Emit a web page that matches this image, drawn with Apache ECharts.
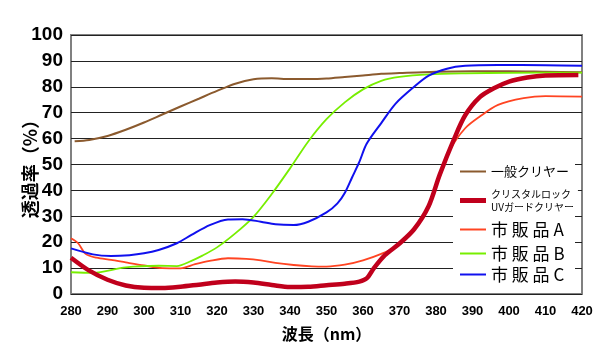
<!DOCTYPE html>
<html><head><meta charset="utf-8">
<script src="https://cdn.jsdelivr.net/npm/echarts@6/dist/echarts.min.js"></script>
<style>html,body{margin:0;padding:0;background:#fff}#c{width:600px;height:354px}</style>
</head><body><div id="c"></div>
<script>
const xTicks = [280,290,300,310,320,330,340,350,360,370,380,390,400,410,420];
const yTicks = [0,10,20,30,40,50,60,70,80,90,100];
const seriesNames = ['一般クリヤー','クリスタルロック UVガードクリヤー','市 販 品 A','市 販 品 B','市 販 品 C'];

const brownX = [281,285,290,295,300,305,310,315,320,325,330,335,340,345,350,355,360,365,370,380,390,400,410,420];
const brownY = [59,59.5,61,63.4,66.2,69.3,72.4,75.4,78.4,81.2,82.9,83.3,83,83,83.2,83.8,84.4,85,85.3,85.8,86,86,85.8,85.6];

const redX = [280,285,290,295,300,305,310,315,320,325,330,335,340,345,350,355,359,361,363,366,370,374,378,381,385,388,392,396,400,405,410,419];
const redY = [14,9,5.5,3.3,2.4,2.3,2.8,3.6,4.4,4.8,4.4,3.5,2.7,2.8,3.4,4,4.8,6,10,15,19.5,25,34,46,60,69,76,79.5,82,83.6,84.4,84.6];

const aX = [280,282,284,287,291,295,300,305,310,314,318,323,328,332,336,341,346,350,355,360,365,369,374,378,381,384,388,392,397,404,410,420];
const aY = [21.5,19.5,15.5,14,13.2,12.2,11,10,9.9,11.5,12.8,13.8,13.6,13,12,11.2,10.7,10.6,11.3,13,15.5,18.3,25,34,45,56,64,68.5,73,75.6,76.4,76.2];

const bX = [280,286,295,304,309,313,316,320,325,330,335,340,345,350,355,360,365,370,378,388,400,420];
const bY = [8.4,8.2,10.3,10.9,10.8,12.8,14.8,18,23.4,29.8,38.6,48.5,58.9,67.5,74,79,82.3,83.8,84.8,85.2,85.4,85.5];

const cX = [280,286,291,296,300,304,309,313,318,323,327,332,336,341,345,350,353,355,357,359,361,365,369,374,378,383,388,397,410,420];
const cY = [17.6,15.3,14.7,15,15.7,17,19.6,22.8,26.6,28.8,28.9,27.9,26.9,26.6,27.9,31.5,35,39,45,51,58,66,73.6,80,84.3,87,88.1,88.4,88.3,88.1];

const zip = (xs, ys) => xs.map((x, i) => [x, ys[i]]);

const chart = echarts.init(document.getElementById('c'), null, {renderer: 'canvas'});
const mk = (name, xs, ys, color, width, z) => ({
  name, type: 'line', data: zip(xs, ys), showSymbol: false, symbol: 'none',
  smooth: 0.3, z,
  lineStyle: {color, width}, itemStyle: {color}
});
const thinIcon = 'path://M0,0H26V2H0Z';
const thickIcon = 'path://M0,0H26V5H0Z';
const richStyles = {
  s: {fontFamily: 'Noto Sans CJK JP', fontSize: 10, lineHeight: 13, width: 80, color: '#000'},
  m: {fontFamily: 'Noto Sans CJK JP', fontSize: 13, lineHeight: 18, width: 80, color: '#000'},
  b: {fontFamily: 'Noto Sans CJK JP', fontSize: 17, lineHeight: 16, width: 80, color: '#000'}
};
const fmt = name => {
  if (name === seriesNames[1]) return '{s|クリスタルロック}\n{s|UVガードクリヤー}';
  if (name === seriesNames[0]) return '{m|' + name + '}';
  return '{b|' + name + '}';
};
const mkLegend = (name, icon, top, padding) => ({
  orient: 'vertical', left: 453, top, backgroundColor: '#fff', padding,
  itemWidth: 26, itemHeight: 12, itemGap: 0,
  data: [{name, icon}], formatter: fmt,
  textStyle: {color: '#000', rich: richStyles}
});
chart.setOption({
  animation: false,
  backgroundColor: '#fff',
  grid: {left: 71, right: 18, top: 35, bottom: 60, show: true, borderColor: '#808080', borderWidth: 2,
    backgroundColor: 'transparent', containLabel: false, outerBoundsMode: 'none'},
  xAxis: {
    type: 'value', min: 280, max: 420, interval: 10,
    name: '波長（nm）', nameLocation: 'middle', nameGap: 32,
    nameTextStyle: {fontFamily: 'Noto Sans CJK JP', fontWeight: 'bold', fontSize: 16, color: '#000'},
    axisLine: {show: false}, axisTick: {show: false}, splitLine: {show: false},
    axisLabel: {margin: 11, fontFamily: 'Liberation Sans', fontWeight: 'bold', fontSize: 13, color: '#000',
      formatter: v => xTicks.includes(v) ? String(v) : ''}
  },
  yAxis: {
    type: 'value', min: 0, max: 100, interval: 10,
    name: '透過率（%）', nameLocation: 'middle', nameRotate: 90, nameGap: 32, nameMoveOverlap: false,
    nameTextStyle: {fontFamily: 'Noto Sans CJK JP', fontWeight: 'bold', fontSize: 18, color: '#000'},
    axisLine: {show: false}, axisTick: {show: false},
    splitLine: {show: true, lineStyle: {color: '#222', width: 1}},
    axisLabel: {margin: 8, fontFamily: 'Liberation Sans', fontWeight: 'bold', fontSize: 19, color: '#000',
      formatter: v => yTicks.includes(v) ? String(v) : ''}
  },
  legend: [
    mkLegend(seriesNames[0], thinIcon, 160, [5, 4, 1, 7]),
    mkLegend(seriesNames[1], thickIcon, 184, [5, 4, 0, 7]),
    mkLegend(seriesNames[2], thinIcon, 215, [6, 4, 3, 7]),
    mkLegend(seriesNames[3], thinIcon, 240, [5, 4, 1, 7]),
    mkLegend(seriesNames[4], thinIcon, 262, [4, 4, 3, 7])
  ],
  series: [
    mk(seriesNames[0], brownX, brownY, '#8b5a2e', 2, 2),
    mk(seriesNames[1], redX, redY, '#c0001c', 4.5, 6),
    mk(seriesNames[2], aX, aY, '#ff4422', 1.8, 3),
    mk(seriesNames[3], bX, bY, '#77ee00', 1.8, 4),
    mk(seriesNames[4], cX, cY, '#1010ee', 2, 5)
  ]
});
</script></body></html>
